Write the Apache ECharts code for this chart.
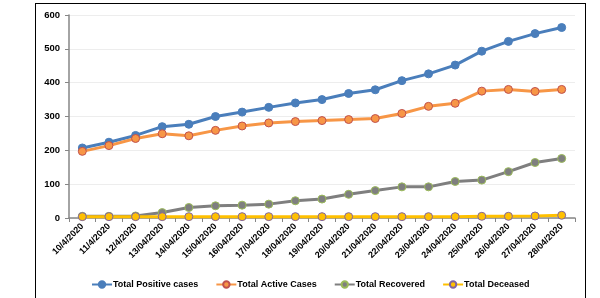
<!DOCTYPE html>
<html lang="en">

<head>
    <meta charset="UTF-8">
    <title>Cases chart</title>
    <script src="https://cdn.jsdelivr.net/npm/echarts@6/dist/echarts.min.js"></script>
    <style>
        html,
        body {
            margin: 0px;
            width: 600px;
            height: 298px;
            overflow: hidden;
            background-color: white;
        }

        .frame {
            position: absolute;
            left: 35px;
            top: 3px;
            width: 549px;
            height: 340px;
            border: solid 1.5px black;
        }

        #chart {
            position: absolute;
            left: 0px;
            top: 0px;
            width: 600px;
            height: 298px;
        }
    </style>
</head>

<body>
    <div class="frame"></div>
    <div id="chart"></div>
    <script>
        var dates = ['10/4/2020', '11/4/2020', '12/4/2020', '13/04/2020', '14/04/2020', '15/04/2020',
            '16/04/2020', '17/04/2020', '18/04/2020', '19/04/2020', '20/04/2020', '21/04/2020',
            '22/04/2020', '23/04/2020', '24/04/2020', '25/04/2020', '26/04/2020', '27/04/2020', '28/04/2020'];
        var positive = [207, 224, 244, 270, 277, 300, 313, 327, 340, 350, 368, 379, 406, 426, 452, 493, 522, 545, 563];
        var active = [197, 214, 235, 249, 243, 259, 272, 281, 285, 288, 291, 294, 309, 330, 339, 375, 380, 374, 380];
        var recovered = [5, 5, 6, 16, 31, 36, 38, 41, 51, 56, 70, 81, 92, 92, 108, 112, 137, 164, 176];
        var deceased = [4, 4, 4, 4, 4, 4, 4, 4, 4, 4, 4, 4, 4, 4, 4, 5, 5, 6, 8];

        function makeSeries(name, data, lineColor, dotColor, edgeColor) {
            return {
                name: name,
                type: 'line',
                data: data,
                symbol: 'circle',
                symbolSize: 8,
                lineStyle: { color: lineColor, width: 3 },
                itemStyle: { color: dotColor, borderColor: edgeColor, borderWidth: 1 },
                emphasis: { disabled: true }
            };
        }

        var chart = echarts.init(document.getElementById('chart'));
        chart.setOption({
            animation: false,
            textStyle: { fontFamily: 'Liberation Sans, Arial' },
            grid: { left: 69, right: 25, top: 15, bottom: 80, containLabel: false },
            legend: {
                bottom: 4,
                left: 86,
                itemWidth: 20,
                itemHeight: 8,
                itemGap: 17,
                textStyle: { fontSize: 9, fontWeight: 'bold', color: '#000', padding: [0, 0, 0, -4] },
                data: ['Total Positive cases', 'Total Active Cases', 'Total Recovered', 'Total Deceased']
            },
            xAxis: {
                type: 'category',
                data: dates,
                boundaryGap: true,
                axisLine: { lineStyle: { color: '#868686', width: 1.5 } },
                axisTick: { show: true, length: 4, lineStyle: { color: '#868686' } },
                axisLabel: { rotate: 45, fontSize: 9, fontWeight: 'bold', color: '#000', margin: 7, interval: 0 }
            },
            yAxis: {
                type: 'value',
                min: 0,
                max: 600,
                interval: 100,
                axisLine: { show: true, lineStyle: { color: '#868686', width: 1.5 } },
                axisTick: { show: true, length: 4, lineStyle: { color: '#868686' } },
                splitLine: { lineStyle: { color: '#EDEDED', width: 1 } },
                axisLabel: { fontSize: 9.5, fontWeight: 'bold', color: '#000', margin: 9 }
            },
            series: [
                makeSeries('Total Positive cases', positive, '#4A7EBB', '#4A7EBB', '#4A7EBB'),
                makeSeries('Total Active Cases', active, '#F79646', '#F79646', '#C0504D'),
                makeSeries('Total Recovered', recovered, '#7F7F7F', '#7F7F7F', '#9BBB59'),
                makeSeries('Total Deceased', deceased, '#FFC000', '#FFC000', '#8064A2')
            ]
        });
    </script>
</body>

</html>
